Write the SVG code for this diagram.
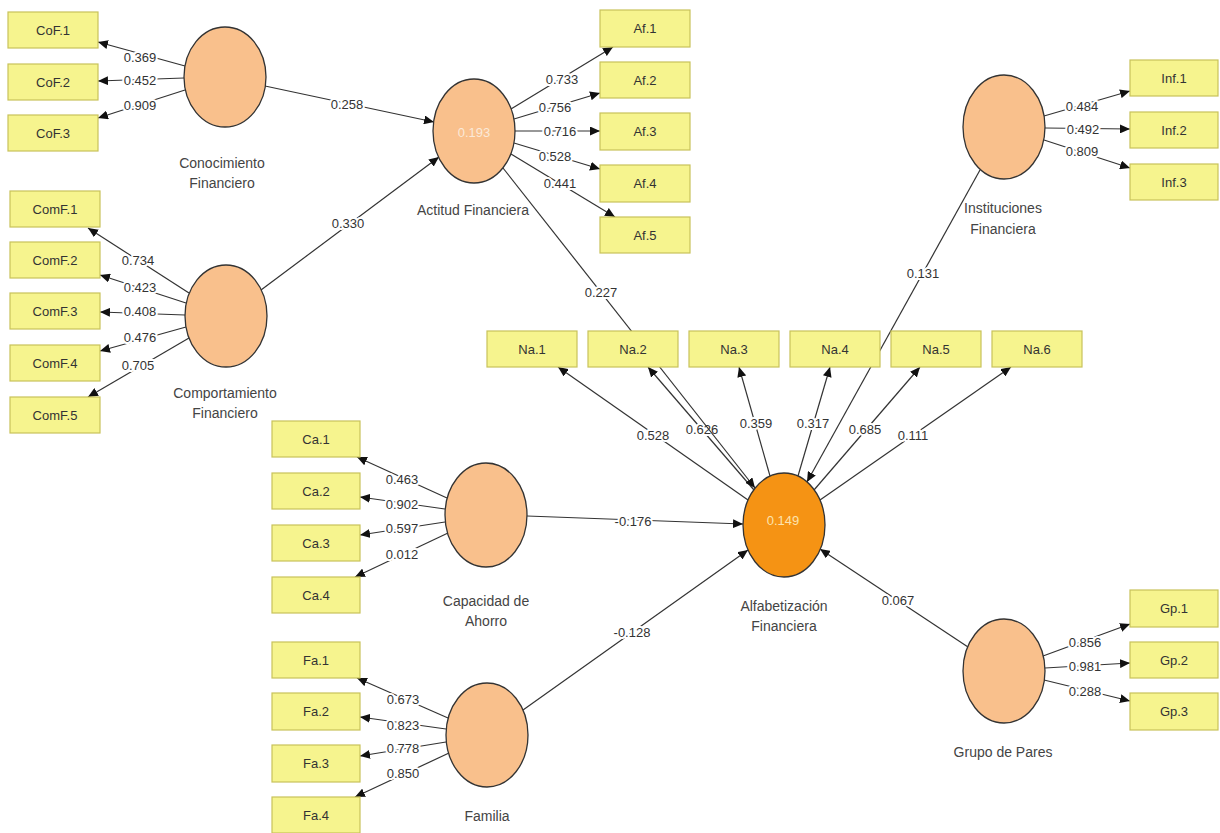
<svg xmlns="http://www.w3.org/2000/svg" width="1220" height="833" viewBox="0 0 1220 833">
<defs>
<marker id="ah" markerWidth="10" markerHeight="9" refX="10" refY="4.5" orient="auto" markerUnits="userSpaceOnUse"><path d="M0,0 L10,4.5 L0,9 z" fill="#111"/></marker>
<style>
.c{stroke:#333;stroke-width:1.2;fill:none;marker-end:url(#ah)}
.lbl{font-family:"Liberation Sans",Arial,sans-serif;font-size:13px;fill:#333;text-anchor:middle;stroke:#fff;stroke-width:4;stroke-linejoin:round;paint-order:stroke}
.box{fill:#F6F48E;stroke:#C8C25A;stroke-width:1.2}
.bt{font-family:"Liberation Sans",Arial,sans-serif;font-size:13px;fill:#333;text-anchor:middle}
.lv{fill:#F9C08C;stroke:#333;stroke-width:1.3}
.lv2{fill:#F59314;stroke:#333;stroke-width:1.3}
.nt{font-family:"Liberation Sans",Arial,sans-serif;font-size:14px;fill:#444;text-anchor:middle}
.r2{font-family:"Liberation Sans",Arial,sans-serif;font-size:13px;text-anchor:middle}
</style>
</defs>
<rect width="1220" height="833" fill="#fff"/>
<g id="connectors">
<line class="c" x1="185" y1="66" x2="98" y2="42"/>
<line class="c" x1="184" y1="78" x2="98" y2="81"/>
<line class="c" x1="185" y1="90" x2="98" y2="118"/>
<line class="c" x1="189" y1="293" x2="88" y2="228"/>
<line class="c" x1="186" y1="303" x2="100" y2="275"/>
<line class="c" x1="185" y1="315" x2="100" y2="312"/>
<line class="c" x1="186" y1="327" x2="100" y2="351"/>
<line class="c" x1="189" y1="338" x2="88" y2="397"/>
<line class="c" x1="511" y1="109" x2="613" y2="47"/>
<line class="c" x1="514" y1="119" x2="600" y2="93"/>
<line class="c" x1="515" y1="131" x2="600" y2="131"/>
<line class="c" x1="514" y1="143" x2="600" y2="169"/>
<line class="c" x1="511" y1="154" x2="615" y2="217"/>
<line class="c" x1="1044" y1="116" x2="1130" y2="91"/>
<line class="c" x1="1045" y1="128" x2="1130" y2="129"/>
<line class="c" x1="1044" y1="140" x2="1130" y2="168"/>
<line class="c" x1="447" y1="498" x2="357" y2="457"/>
<line class="c" x1="445" y1="509" x2="360" y2="497"/>
<line class="c" x1="445" y1="522" x2="360" y2="535"/>
<line class="c" x1="448" y1="533" x2="355" y2="577"/>
<line class="c" x1="448" y1="718" x2="357" y2="678"/>
<line class="c" x1="446" y1="729" x2="360" y2="717"/>
<line class="c" x1="446" y1="742" x2="360" y2="756"/>
<line class="c" x1="449" y1="753" x2="355" y2="797"/>
<line class="c" x1="1043" y1="656" x2="1130" y2="624"/>
<line class="c" x1="1045" y1="668" x2="1130" y2="663"/>
<line class="c" x1="1044" y1="680" x2="1130" y2="701"/>
<line class="c" x1="748" y1="500" x2="558" y2="367"/>
<line class="c" x1="754" y1="490" x2="648" y2="367"/>
<line class="c" x1="770" y1="476" x2="739" y2="367"/>
<line class="c" x1="798" y1="476" x2="830" y2="367"/>
<line class="c" x1="814" y1="490" x2="920" y2="367"/>
<line class="c" x1="820" y1="500" x2="1011" y2="367"/>
<text class="lbl" x="140" y="61.5">0.369</text>
<text class="lbl" x="140" y="84.5">0.452</text>
<text class="lbl" x="140" y="109.5">0.909</text>
<text class="lbl" x="138" y="264.5">0.734</text>
<text class="lbl" x="140" y="291.5">0.423</text>
<text class="lbl" x="140" y="315.5">0.408</text>
<text class="lbl" x="140" y="341.5">0.476</text>
<text class="lbl" x="138" y="369.5">0.705</text>
<text class="lbl" x="562" y="83.5">0.733</text>
<text class="lbl" x="555" y="111.5">0.756</text>
<text class="lbl" x="560" y="135.5">0.716</text>
<text class="lbl" x="555" y="160.5">0.528</text>
<text class="lbl" x="560" y="187.5">0.441</text>
<text class="lbl" x="1082" y="110.5">0.484</text>
<text class="lbl" x="1083" y="133.5">0.492</text>
<text class="lbl" x="1082" y="155.5">0.809</text>
<text class="lbl" x="402" y="483.5">0.463</text>
<text class="lbl" x="402" y="508.5">0.902</text>
<text class="lbl" x="402" y="532.5">0.597</text>
<text class="lbl" x="402" y="558.5">0.012</text>
<text class="lbl" x="403" y="703.5">0.673</text>
<text class="lbl" x="403" y="729.5">0.823</text>
<text class="lbl" x="403" y="752.5">0.778</text>
<text class="lbl" x="403" y="777.5">0.850</text>
<text class="lbl" x="1085" y="646.5">0.856</text>
<text class="lbl" x="1085" y="670.5">0.981</text>
<text class="lbl" x="1085" y="695.5">0.288</text>
<text class="lbl" x="653" y="439.5">0.528</text>
<text class="lbl" x="702" y="433.5">0.626</text>
<text class="lbl" x="756" y="427.5">0.359</text>
<text class="lbl" x="813" y="427.5">0.317</text>
<text class="lbl" x="865" y="433.5">0.685</text>
<text class="lbl" x="913" y="439.5">0.111</text>
<line class="c" x1="265" y1="86" x2="434" y2="122"/>
<line class="c" x1="261" y1="290" x2="439" y2="157"/>
<line class="c" x1="503" y1="168" x2="755" y2="488"/>
<line class="c" x1="980" y1="170" x2="807" y2="482"/>
<line class="c" x1="527" y1="516" x2="743" y2="524"/>
<line class="c" x1="523" y1="710" x2="748" y2="550"/>
<line class="c" x1="968" y1="647" x2="820" y2="549"/>
<text class="lbl" x="347" y="108.5">0.258</text>
<text class="lbl" x="348" y="227.5">0.330</text>
<text class="lbl" x="601" y="296.5">0.227</text>
<text class="lbl" x="923" y="277.5">0.131</text>
<text class="lbl" x="633" y="525.5">-0.176</text>
<text class="lbl" x="632" y="636.5">-0.128</text>
<text class="lbl" x="898" y="604.5">0.067</text>
</g>
<g id="n-cof1"><rect class="box" x="8" y="12" width="90" height="36"/><text class="bt" x="53" y="34.5">CoF.1</text></g>
<g id="n-cof2"><rect class="box" x="8" y="64" width="90" height="36"/><text class="bt" x="53" y="86.5">CoF.2</text></g>
<g id="n-cof3"><rect class="box" x="8" y="115" width="90" height="36"/><text class="bt" x="53" y="137.5">CoF.3</text></g>
<g id="n-comf1"><rect class="box" x="10" y="191" width="90" height="36"/><text class="bt" x="55" y="213.5">ComF.1</text></g>
<g id="n-comf2"><rect class="box" x="10" y="242" width="90" height="36"/><text class="bt" x="55" y="264.5">ComF.2</text></g>
<g id="n-comf3"><rect class="box" x="10" y="293" width="90" height="36"/><text class="bt" x="55" y="315.5">ComF.3</text></g>
<g id="n-comf4"><rect class="box" x="10" y="345" width="90" height="36"/><text class="bt" x="55" y="367.5">ComF.4</text></g>
<g id="n-comf5"><rect class="box" x="10" y="397" width="90" height="36"/><text class="bt" x="55" y="419.5">ComF.5</text></g>
<g id="n-af1"><rect class="box" x="600" y="10" width="90" height="37"/><text class="bt" x="645" y="33">Af.1</text></g>
<g id="n-af2"><rect class="box" x="600" y="62" width="90" height="36"/><text class="bt" x="645" y="84.5">Af.2</text></g>
<g id="n-af3"><rect class="box" x="600" y="113" width="90" height="37"/><text class="bt" x="645" y="136">Af.3</text></g>
<g id="n-af4"><rect class="box" x="600" y="165" width="90" height="37"/><text class="bt" x="645" y="188">Af.4</text></g>
<g id="n-af5"><rect class="box" x="600" y="217" width="90" height="36"/><text class="bt" x="645" y="239.5">Af.5</text></g>
<g id="n-inf1"><rect class="box" x="1130" y="60" width="88" height="36"/><text class="bt" x="1174" y="82.5">Inf.1</text></g>
<g id="n-inf2"><rect class="box" x="1130" y="112" width="88" height="36"/><text class="bt" x="1174" y="134.5">Inf.2</text></g>
<g id="n-inf3"><rect class="box" x="1130" y="164" width="88" height="36"/><text class="bt" x="1174" y="186.5">Inf.3</text></g>
<g id="n-na1"><rect class="box" x="487" y="331" width="90" height="36"/><text class="bt" x="532" y="353.5">Na.1</text></g>
<g id="n-na2"><rect class="box" x="588" y="331" width="90" height="36"/><text class="bt" x="633" y="353.5">Na.2</text></g>
<g id="n-na3"><rect class="box" x="689" y="331" width="90" height="36"/><text class="bt" x="734" y="353.5">Na.3</text></g>
<g id="n-na4"><rect class="box" x="790" y="331" width="90" height="36"/><text class="bt" x="835" y="353.5">Na.4</text></g>
<g id="n-na5"><rect class="box" x="891" y="331" width="90" height="36"/><text class="bt" x="936" y="353.5">Na.5</text></g>
<g id="n-na6"><rect class="box" x="992" y="331" width="90" height="36"/><text class="bt" x="1037" y="353.5">Na.6</text></g>
<g id="n-ca1"><rect class="box" x="272" y="421" width="88" height="36"/><text class="bt" x="316" y="443.5">Ca.1</text></g>
<g id="n-ca2"><rect class="box" x="272" y="473" width="88" height="36"/><text class="bt" x="316" y="495.5">Ca.2</text></g>
<g id="n-ca3"><rect class="box" x="272" y="525" width="88" height="36"/><text class="bt" x="316" y="547.5">Ca.3</text></g>
<g id="n-ca4"><rect class="box" x="272" y="577" width="88" height="36"/><text class="bt" x="316" y="599.5">Ca.4</text></g>
<g id="n-fa1"><rect class="box" x="272" y="642" width="88" height="36"/><text class="bt" x="316" y="664.5">Fa.1</text></g>
<g id="n-fa2"><rect class="box" x="272" y="693" width="88" height="37"/><text class="bt" x="316" y="716">Fa.2</text></g>
<g id="n-fa3"><rect class="box" x="272" y="745" width="88" height="37"/><text class="bt" x="316" y="768">Fa.3</text></g>
<g id="n-fa4"><rect class="box" x="272" y="797" width="88" height="36"/><text class="bt" x="316" y="819.5">Fa.4</text></g>
<g id="n-gp1"><rect class="box" x="1130" y="590" width="88" height="37"/><text class="bt" x="1174" y="613">Gp.1</text></g>
<g id="n-gp2"><rect class="box" x="1130" y="642" width="88" height="36"/><text class="bt" x="1174" y="664.5">Gp.2</text></g>
<g id="n-gp3"><rect class="box" x="1130" y="693" width="88" height="37"/><text class="bt" x="1174" y="716">Gp.3</text></g>
<g id="n-conocimiento"><ellipse class="lv" cx="225" cy="77" rx="41" ry="50"/><text class="nt" x="222" y="168">Conocimiento</text><text class="nt" x="222" y="188">Financiero</text></g>
<g id="n-comportamiento"><ellipse class="lv" cx="226" cy="316" rx="41" ry="51"/><text class="nt" x="225" y="398">Comportamiento</text><text class="nt" x="225" y="418">Financiero</text></g>
<g id="n-actitud"><ellipse class="lv" cx="474" cy="131" rx="41" ry="52"/><text class="r2" x="474" y="137" fill="#FBE9D8">0.193</text><text class="nt" x="473" y="215">Actitud Financiera</text></g>
<g id="n-instituciones"><ellipse class="lv" cx="1004" cy="127" rx="41" ry="52"/><text class="nt" x="1003" y="213">Instituciones</text><text class="nt" x="1003" y="234">Financiera</text></g>
<g id="n-alfabetizacion"><ellipse class="lv2" cx="784" cy="525" rx="41" ry="52"/><text class="r2" x="783" y="525" fill="#FCE3AE">0.149</text><text class="nt" x="784" y="611">Alfabetización</text><text class="nt" x="784" y="631">Financiera</text></g>
<g id="n-capacidad"><ellipse class="lv" cx="486" cy="515" rx="41" ry="52"/><text class="nt" x="486" y="606">Capacidad de</text><text class="nt" x="486" y="626">Ahorro</text></g>
<g id="n-familia"><ellipse class="lv" cx="487" cy="735" rx="41" ry="52"/><text class="nt" x="487" y="821">Familia</text></g>
<g id="n-grupo"><ellipse class="lv" cx="1004" cy="671" rx="41" ry="52"/><text class="nt" x="1003" y="757">Grupo de Pares</text></g>
</svg>
